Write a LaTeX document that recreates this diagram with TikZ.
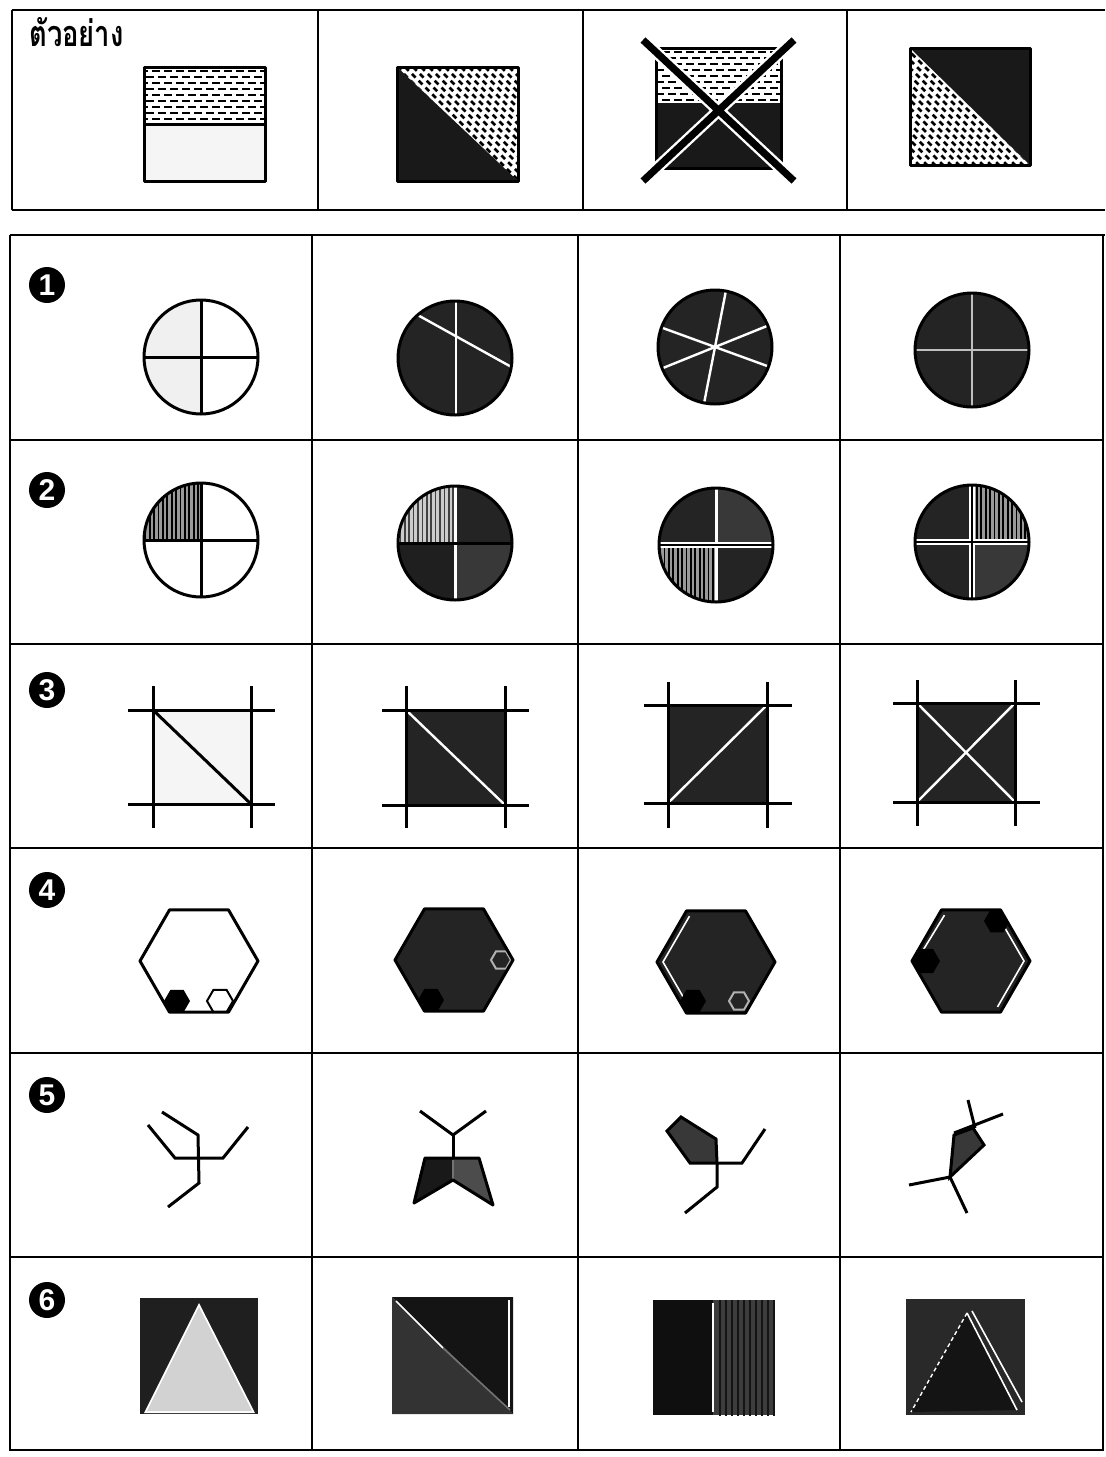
\documentclass[tikz,border=0pt]{standalone}
\usepackage{fontspec}
\setsansfont{Liberation Sans}
\newfontfamily\thaifont[Script=Thai]{Loma}
\usetikzlibrary{patterns.meta}
\newcommand{\hexa}[3]{([shift={(#1,#2)}]0:#3) -- ([shift={(#1,#2)}]60:#3) -- ([shift={(#1,#2)}]120:#3) -- ([shift={(#1,#2)}]180:#3) -- ([shift={(#1,#2)}]240:#3) -- ([shift={(#1,#2)}]300:#3) -- cycle}
\newcommand{\qsector}[5]{(#1,#2) -- ([shift={(#1,#2)}]#4:#3) arc[start angle=#4, end angle=#5, radius=#3] -- cycle}
\tikzset{
  grid/.style={line width=0.8pt},
  outl/.style={line width=1.5pt, line join=round},
  stick/.style={line width=1.5pt, line join=miter},
  darkf/.style={fill=black!86},
  dark2/.style={fill=black!78},
  hatchq/.style={preaction={fill=black!40}, pattern={Lines[angle=90,distance=2.2pt,line width=0.9pt]}, pattern color=black},
  hatchl/.style={preaction={fill=black!20}, pattern={Lines[angle=90,distance=2.2pt,line width=0.8pt]}, pattern color=black!75},
  wline/.style={white, line width=1.2pt},
  hdash/.style={line width=1.2pt, dash pattern=on 4pt off 2pt},
  ddash/.style={line width=1.3pt, dash pattern=on 2.6pt off 2.2pt},
  marker/.style={circle, fill=black, minimum size=18pt, inner sep=0pt, text=white, font=\sffamily\bfseries\fontsize{15}{15}\selectfont},
  bigx/.style={line width=3.6pt},
}
\begin{document}
\begin{tikzpicture}[x=0.5pt,y=-0.5pt]
\useasboundingbox (0,0) rectangle (1105,1457);
\fill[white] (0,0) rectangle (1105,1457);

% ---------- tables ----------
\draw[grid] (12,10) -- (1105,10);
\draw[grid] (12,210) -- (1105,210);
\draw[grid] (12,10) -- (12,210);
\foreach \x in {318,583,847} \draw[grid] (\x,10) -- (\x,210);
\draw[grid] (10,235) -- (1105,235);
\draw[grid] (10,235) -- (10,1450) -- (1103,1450) -- (1103,235);
\foreach \y in {440,644,848,1053,1257} \draw[grid] (10,\y) -- (1103,\y);
\foreach \x in {312,578,840} \draw[grid] (\x,235) -- (\x,1450);

% ---------- labels ----------
\node[anchor=base west, inner sep=0pt, xscale=0.76, font=\thaifont\bfseries\fontsize{18}{18}\selectfont] (title) at (29,46) {ตัวอย่าง};
\foreach \n/\y in {1/285,2/490,3/690,4/890,5/1095,6/1300}
  \node[marker] (m\n) at (47,\y) {\n};

% ---------- example row ----------
% A
\fill[gray!8] (144,124) rectangle (265,181);
\begin{scope}
\clip (144,67) rectangle (265,124);
\foreach \y in {71,83,...,119} \draw[hdash] (140,\y) -- (270,\y);
\foreach \y in {77,89,...,119} \draw[hdash, dash phase=3pt] (140,\y) -- (270,\y);
\end{scope}
\draw[outl] (144,67) rectangle (265,181);
\draw[outl] (144,124) -- (265,124);
% B
\fill[black!90] (397,67) -- (397,181) -- (518,181) -- cycle;
\begin{scope}
\clip (397,67) -- (518,67) -- (518,181) -- cycle;
\foreach \c in {250,258,...,510} \draw[ddash] (\c,40) -- ++(170,170);
\end{scope}
\draw[outl] (397,67) rectangle (518,181);
% C
\fill[black!90] (656,103) rectangle (781,168);
\begin{scope}
\clip (656,48) rectangle (781,103);
\foreach \y in {52,64,...,100} \draw[hdash] (650,\y) -- (790,\y);
\foreach \y in {58,70,...,100} \draw[hdash, dash phase=3pt] (650,\y) -- (790,\y);
\end{scope}
\draw[outl] (656,48) rectangle (781,168);
\draw[white, line width=6pt] (643,40) -- (794,181) (794,40) -- (643,181);
\draw[bigx] (643,40) -- (794,181) (794,40) -- (643,181);
% D
\fill[black!90] (910,48) -- (1030,48) -- (1030,165) -- cycle;
\begin{scope}
\clip (910,48) -- (910,165) -- (1030,165) -- cycle;
\foreach \c in {770,778,...,1040} \draw[ddash] (\c,40) -- ++(170,170);
\end{scope}
\draw[outl] (910,48) rectangle (1030,165);

% ---------- row 1 ----------
\fill[gray!12] \qsector{201}{357}{57}{90}{270};
\draw[outl] (201,357) circle (57);
\draw[outl] (144,357) -- (258,357) (201,300) -- (201,414);

\fill[darkf] (455,358) circle (57);
\draw[wline] (456,301) -- (456,415);
\draw[wline] ([shift={(455,358)}]229:57) -- ([shift={(455,358)}]9:57);
\draw[outl] (455,358) circle (57);

\fill[darkf] (715,347) circle (57);
\foreach \a in {101,20,158}
  \draw[wline] ([shift={(715,347)}]\a:57) -- ([shift={(715,347)}]\a+180:57);
\draw[outl] (715,347) circle (57);

\fill[darkf] (972,350) circle (57);
\draw[white!75!black, line width=1pt] (915,350) -- (1029,350) (972,293) -- (972,407);
\draw[outl] (972,350) circle (57);

% ---------- row 2 ----------
\fill[hatchq] \qsector{201}{540}{57}{180}{270};
\draw[outl] (201,540) circle (57);
\draw[outl] (144,540) -- (258,540) (201,483) -- (201,597);

\fill[hatchl] \qsector{455}{543}{57}{180}{270};
\fill[darkf] \qsector{455}{543}{57}{270}{360};
\fill[black!88] \qsector{455}{543}{57}{90}{180};
\fill[dark2] \qsector{455}{543}{57}{0}{90};
\draw[white, line width=1.5pt] (455,486) -- (455,600);
\draw[line width=1.5pt] (398,543) -- (512,543);
\draw[outl] (455,543) circle (57);

\fill[darkf] \qsector{716}{545}{57}{180}{270};
\fill[dark2] \qsector{716}{545}{57}{270}{360};
\fill[hatchq] \qsector{716}{545}{57}{90}{180};
\fill[darkf] \qsector{716}{545}{57}{0}{90};
\draw[white, line width=1.5pt] (716,488) -- (716,602);
\draw[white, line width=2.6pt] (659,545) -- (773,545);
\draw[line width=1.2pt] (659,545) -- (773,545);
\draw[outl] (716,545) circle (57);

\fill[darkf] \qsector{972}{542}{57}{180}{270};
\fill[hatchq] \qsector{972}{542}{57}{270}{360};
\fill[darkf] \qsector{972}{542}{57}{90}{180};
\fill[dark2] \qsector{972}{542}{57}{0}{90};
\draw[white, line width=2.6pt] (972,485) -- (972,599) (915,542) -- (1029,542);
\draw[line width=1.2pt] (972,485) -- (972,599) (915,542) -- (1029,542);
\draw[outl] (972,542) circle (57);

% ---------- row 3 ----------
\fill[gray!8] (153,710) rectangle (251,804);
\draw[outl] (128,710) -- (275,710) (128,804) -- (275,804) (153,686) -- (153,828) (251,686) -- (251,828);
\draw[outl] (153,710) -- (251,804);

\fill[darkf] (406,710) rectangle (505,805);
\draw[wline] (406,710) -- (505,805);
\draw[outl] (382,710) -- (529,710) (382,805) -- (529,805) (406,686) -- (406,828) (505,686) -- (505,828);

\fill[darkf] (668,705) rectangle (767,803);
\draw[wline] (668,803) -- (767,705);
\draw[outl] (644,705) -- (792,705) (644,803) -- (792,803) (668,682) -- (668,828) (767,682) -- (767,828);

\fill[darkf] (917,703) rectangle (1015,802);
\draw[wline] (917,703) -- (1015,802) (917,802) -- (1015,703);
\draw[outl] (893,703) -- (1040,703) (893,802) -- (1040,802) (917,680) -- (917,826) (1015,680) -- (1015,826);

% ---------- row 4 ----------
\fill[white] \hexa{199}{961}{59};
\begin{scope}
\clip \hexa{199}{961}{59};
\fill[black] \hexa{177}{1001}{13};
\draw[line width=1pt] \hexa{220}{1001}{13};
\end{scope}
\draw[outl] \hexa{199}{961}{59};

\fill[darkf] \hexa{454}{960}{59};
\begin{scope}
\clip \hexa{454}{960}{59};
\fill[black] \hexa{431}{1000}{13};
\draw[white!70!black, line width=1pt] \hexa{501}{960}{10};
\end{scope}
\draw[outl] \hexa{454}{960}{59};

\fill[darkf] \hexa{716}{962}{59};
\begin{scope}
\clip \hexa{716}{962}{59};
\draw[white, line width=0.8pt] ([shift={(716,962)}]120:53) -- ([shift={(716,962)}]180:53) -- ([shift={(716,962)}]240:53);
\fill[black] \hexa{693}{1001}{13};
\draw[white!70!black, line width=1pt] \hexa{739}{1001}{10};
\end{scope}
\draw[outl] \hexa{716}{962}{59};

\fill[darkf] \hexa{971}{961}{59};
\begin{scope}
\clip \hexa{971}{961}{59};
\draw[white, line width=0.8pt] ([shift={(971,961)}]300:53) -- ([shift={(971,961)}]0:53) -- ([shift={(971,961)}]60:53);
\draw[white, line width=0.8pt] ([shift={(971,961)}]190:50) -- ([shift={(971,961)}]240:53);
\fill[black] \hexa{926}{961}{14};
\fill[black] \hexa{997}{921}{13};
\end{scope}
\draw[outl] \hexa{971}{961}{59};

% ---------- row 5 ----------
\draw[stick] (162,1112) -- (198,1135) -- (199,1183) -- (168,1207);
\draw[stick] (148,1125) -- (175,1158) -- (223,1158) -- (248,1127);

\draw[stick] (420,1111) -- (453,1135) -- (486,1111);
\draw[stick] (453,1135) -- (453,1158);
\fill[black!90] (425,1158) -- (453,1158) -- (453,1180) -- (414,1203) -- cycle;
\fill[black!70] (453,1158) -- (479,1158) -- (493,1205) -- (453,1180) -- cycle;
\draw[white!45!black, line width=0.7pt] (453,1160) -- (453,1179);
\draw[line width=1.5pt, line join=round] (425,1158) -- (479,1158) -- (493,1205) -- (453,1180) -- (414,1203) -- cycle;

\fill[black!78] (667,1131) -- (681,1117) -- (716,1139) -- (717,1163) -- (690,1163) -- cycle;
\draw[stick] (667,1131) -- (681,1117) -- (716,1139) -- (717,1163) -- (690,1163) -- cycle;
\draw[stick] (717,1163) -- (742,1163) -- (765,1129);
\draw[stick] (717,1163) -- (717,1187) -- (685,1213);

\fill[black!78] (954,1135) -- (973,1128) -- (984,1145) -- (950,1177) -- cycle;
\draw[stick] (954,1135) -- (973,1128) -- (984,1145) -- (950,1177) -- cycle;
\draw[stick] (968,1100) -- (975,1128);
\draw[stick] (1003,1114) -- (954,1133);
\draw[stick] (909,1185) -- (950,1177) -- (967,1213);

% ---------- row 6 ----------
\fill[black!88] (140,1298) rectangle (258,1414);
\fill[white] (199,1303) -- (144,1413) -- (255,1413) -- cycle;
\fill[gray!35] (199,1307) -- (147,1411) -- (252,1411) -- cycle;

\fill[black!80] (392,1297) -- (392,1414) -- (513,1414) -- cycle;
\fill[black!92] (392,1297) -- (513,1297) -- (513,1414) -- cycle;
\draw[white, line width=0.8pt] (396,1301) -- (443,1348);
\draw[white!45!black, line width=0.8pt] (443,1348) -- (510,1410);
\draw[white, line width=0.8pt] (509,1300) -- (509,1407);

\fill[black!94] (653,1300) rectangle (713,1415);
\fill[black!76] (713,1300) rectangle (775,1415);
\fill[pattern={Lines[angle=90,distance=3pt,line width=0.7pt]}, pattern color=black!92] (716,1300) rectangle (775,1415);
\draw[white, line width=1pt] (713,1303) -- (713,1412);

\fill[black!84] (906,1299) rectangle (1025,1415);
\fill[black!92] (967,1313) -- (911,1412) -- (1017,1410) -- cycle;
\draw[white, line width=0.7pt, dash pattern=on 2pt off 1.5pt] (967,1313) -- (911,1412);
\draw[white, line width=0.8pt] (967,1313) -- (1017,1410);
\draw[white, line width=0.8pt] (972,1311) -- (1022,1402);
\end{tikzpicture}
\end{document}
